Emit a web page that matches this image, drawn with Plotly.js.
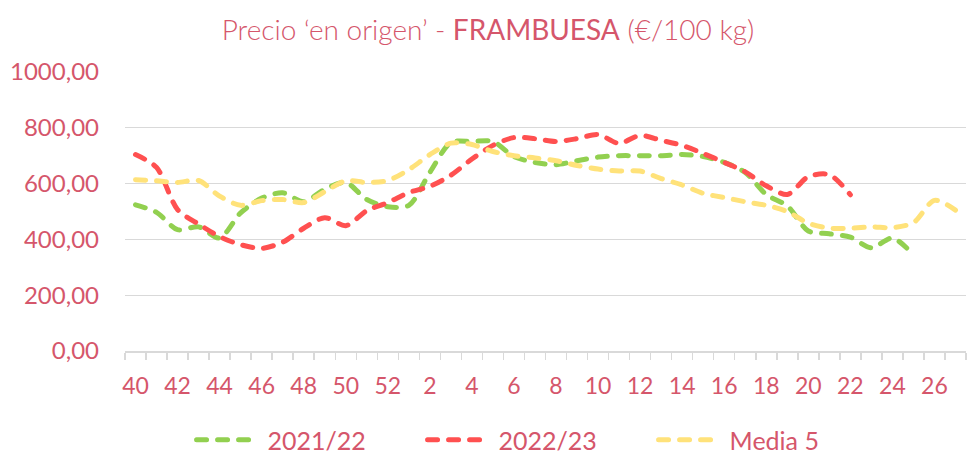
<!DOCTYPE html>
<html>
<head>
<meta charset="utf-8">
<script src="https://cdn.plot.ly/plotly-3.0.1.min.js"></script>
<style>
  html, body { margin: 0; padding: 0; background: #ffffff; }
  #chart { width: 973px; height: 462px; }
  .scatterlayer path.js-line, .legend path.js-line { stroke-linecap: round; }
</style>
</head>
<body>
<div id="chart"></div>
<script>
// Week labels (season runs from week 40 to week 27 of the following year)
const weeks = [40,41,42,43,44,45,46,47,48,49,50,51,52,1,2,3,4,5,6,7,8,9,10,11,12,13,14,15,16,17,18,19,20,21,22,23,24,25,26,27];

// Series values (€/100 kg)
const s2021_22 = [524,497,435,445,405,495,548,567,535,580,604,543,517,522,640,747,751,751,697,676,668,682,695,700,700,700,704,697,676,640,561,520,430,420,408,370,405,345,null,null];
const s2022_23 = [704,658,507,455,410,381,368,390,440,478,449,503,532,568,590,630,688,737,765,761,751,761,776,744,773,755,737,708,676,642,592,561,625,632,560,null,null,null,null,null];
const media5   = [614,610,604,611,555,522,539,543,532,571,610,604,611,650,704,745,740,715,700,692,682,665,652,645,645,618,595,565,550,535,522,500,458,440,440,445,442,460,540,505];

const seriesNames = ['2021/22', '2022/23', 'Media 5'];
const yTickValues = [0, 200, 400, 600, 800, 1000];

const textColor = '#D5566B';
const fontFamily = 'Lato, "Open Sans", sans-serif';
const pos = weeks.map((w, i) => i);
const labelPos = pos.filter(i => i % 2 === 0);
const labelText = labelPos.map(i => String(weeks[i]));

function mk(name, values, color) {
  return {
    type: 'scatter', mode: 'lines', name: name,
    x: pos, y: values,
    line: { color: color, width: 5, dash: '10px,11px', shape: 'spline', smoothing: 0.8 },
    connectgaps: false, hoverinfo: 'skip'
  };
}

const data = [
  mk(seriesNames[0], s2021_22, '#92D050'),
  mk(seriesNames[1], s2022_23, '#FF5050'),
  mk(seriesNames[2], media5, '#FFE27A')
];

const layout = {
  width: 973, height: 462,
  margin: { l: 125, r: 7, t: 72, b: 111, pad: 0 },
  paper_bgcolor: '#ffffff', plot_bgcolor: '#ffffff',
  separators: ',.',
  font: { family: fontFamily, color: textColor, size: 23 },
  title: {
    text: 'Precio ‘en origen’ - <span style="font-weight:400">FRAMBUESA</span> (€/100 kg)',
    font: { family: fontFamily, size: 28, color: textColor, weight: 300 },
    x: 0.5015, xanchor: 'center', xref: 'container',
    y: 1 - 30 / 462, yanchor: 'middle', yref: 'container'
  },
  xaxis: {
    type: 'linear', range: [-0.5, 39.5],
    tickmode: 'array', tickvals: labelPos, ticktext: labelText,
    ticks: '', showgrid: false, zeroline: false,
    showline: true, linecolor: '#D9D9D9', linewidth: 1.5,
    ticklabelstandoff: 14,
    tickfont: { family: fontFamily, size: 23, color: textColor },
    minor: { tickmode: 'linear', tick0: -0.5, dtick: 1, ticks: 'outside', ticklen: 7, tickcolor: '#D9D9D9', tickwidth: 1.5, showgrid: false },
    fixedrange: true
  },
  yaxis: {
    range: [0, 1000],
    tickmode: 'array', tickvals: yTickValues,
    tickformat: '.2f',
    ticks: '', showgrid: true, gridcolor: '#D9D9D9', gridwidth: 1.3,
    zeroline: false, showline: false,
    ticklabelstandoff: 25,
    tickfont: { family: fontFamily, size: 24, color: textColor },
    fixedrange: true
  },
  showlegend: true,
  legend: {
    orientation: 'h', xref: 'container', yref: 'container',
    x: 0.553, xanchor: 'center', y: 1 - 440 / 462, yanchor: 'middle',
    font: { family: fontFamily, size: 25, color: textColor },
    itemwidth: 66, entrywidth: 150, entrywidthmode: 'pixels',
    tracegroupgap: 0, bgcolor: 'rgba(0,0,0,0)'
  }
};

Plotly.newPlot('chart', data, layout, { staticPlot: true, displayModeBar: false }).then(function (gd) {
  // shorten the legend line samples so a gap is left before the text (as in the original)
  gd.querySelectorAll('.legend .legendlines path').forEach(function (p) {
    p.setAttribute('d', 'M5,0h60');
  });
});
</script>
</body>
</html>
